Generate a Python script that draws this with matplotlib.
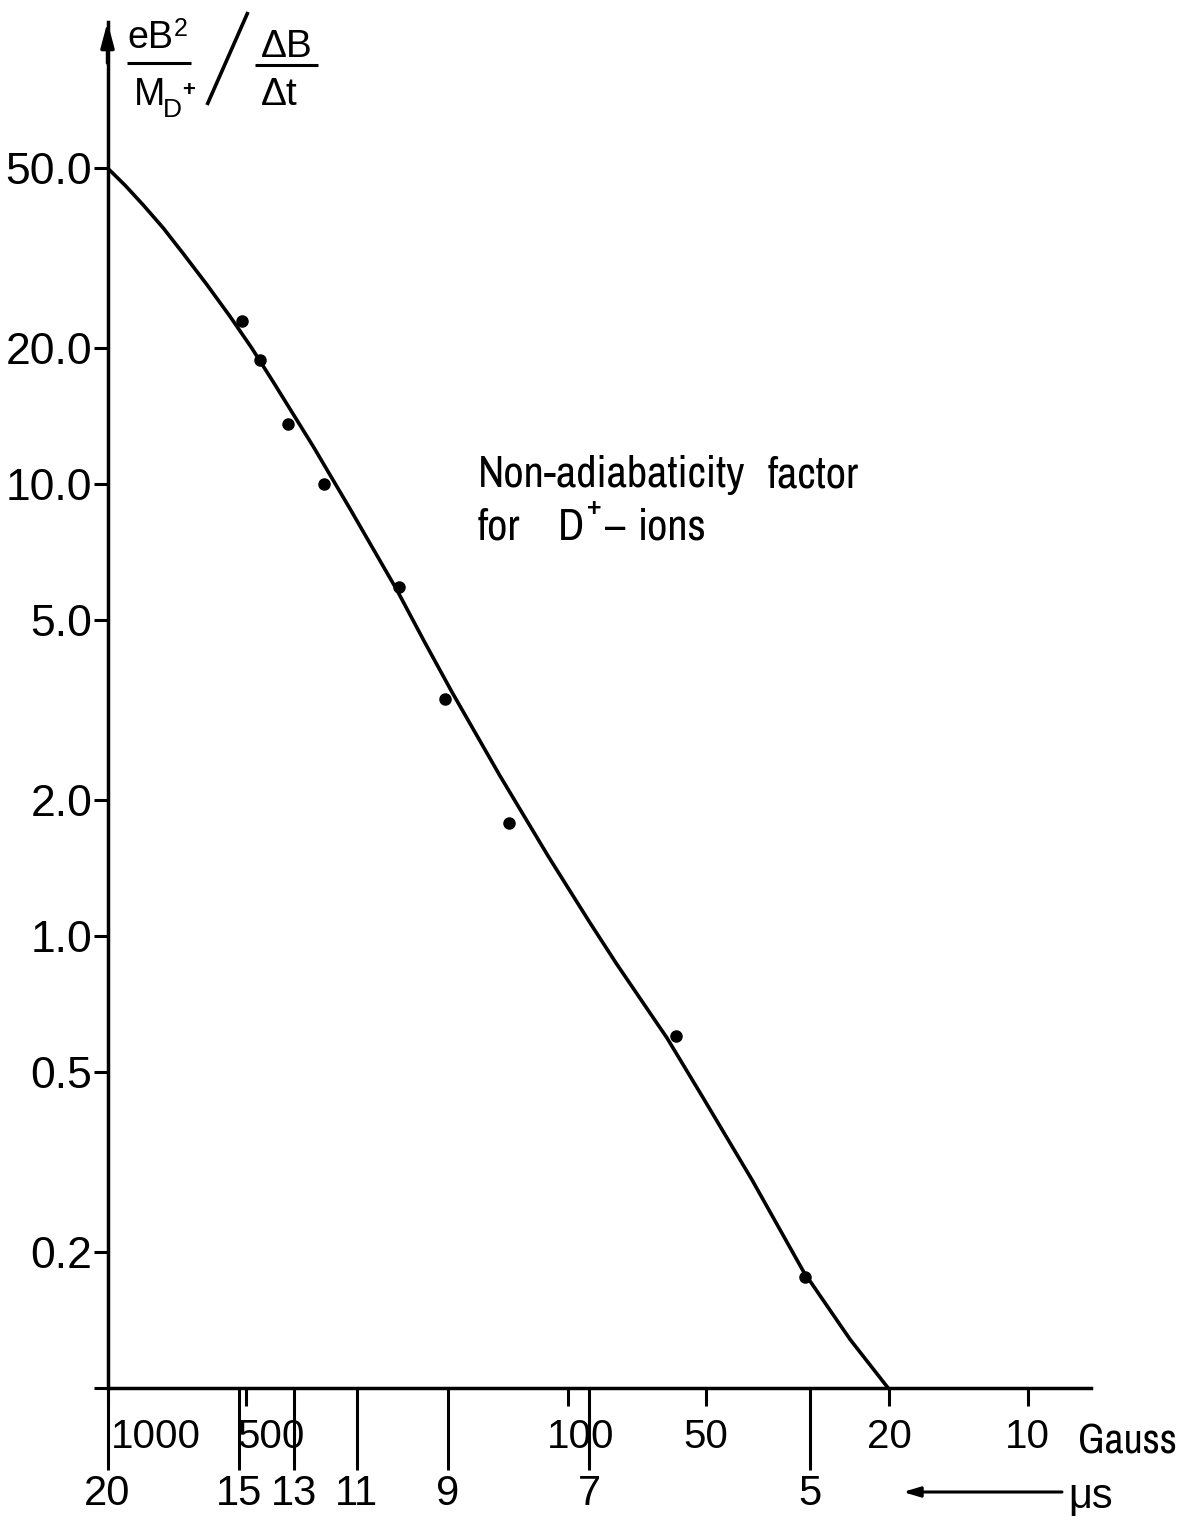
#!/usr/bin/env python3
"""Non-adiabaticity factor for D+ ions vs. field (Gauss) / time (us)."""

import matplotlib
matplotlib.use("Agg")
import matplotlib.pyplot as plt
from matplotlib import font_manager as fm
from matplotlib.lines import Line2D
from matplotlib.ticker import FixedLocator, NullFormatter
from matplotlib.transforms import offset_copy

W, H, DPI = 1188, 1524, 100
FONT = ["Liberation Sans", "DejaVu Sans"]

# --- data --------------------------------------------------------------------
gauss_ticks = [1000, 500, 100, 50, 20, 10]
gauss_labels = ["1000", "500", "100", "50", "20", "10"]
us_ticks = [20, 15, 13, 11, 9, 7, 5]
us_tick_gauss = [1000, 518, 393, 287, 182, 89.8, 29.7]   # us tick positions on the Gauss scale

y_ticks = [50, 20, 10, 5, 2, 1, 0.5, 0.2, 0.1]
y_labels = ["50.0", "20.0", "10.0", "5.0", "2.0", "1.0", "0.5", "0.2", ""]

meas_gauss = [511, 466, 406, 338, 233, 185, 134, 58.2, 30.5]
meas_factor = [22.9, 18.8, 13.6, 10.0, 5.91, 3.34, 1.78, 0.60, 0.176]

curve_gauss = [1000, 916, 836, 756, 684, 608, 542, 486, 436, 357, 297, 235, 205,
               178.5, 140.2, 110.1, 89.4, 78.2, 60.8, 50.7, 39.7, 30.7, 24.3, 20.1]
curve_factor = [50.0, 45.8, 41.4, 36.8, 32.3, 27.6, 23.5, 20.0, 16.8, 12.1, 8.81,
                5.83, 4.49, 3.47, 2.26, 1.50, 1.07, 0.867, 0.595, 0.438, 0.2885,
                0.181, 0.128, 0.100]


def pick_narrow():
    """Find a condensed sans face if one is installed (lettering is narrow)."""
    entries = fm.fontManager.ttflist
    for key in ("Narrow", "Condensed"):
        for f in entries:
            if key in f.name and "Mono" not in f.name and "Serif" not in f.name:
                return {"family": [f.name, "DejaVu Sans"]}, 1.0
    for f in entries:
        if f.name == "DejaVu Sans" and "condensed" in str(f.stretch):
            return {"family": ["DejaVu Sans"], "fontstretch": "condensed"}, 0.95
    return {"family": FONT}, 0.82


NARROW, NARROW_SCALE = pick_narrow()


def px(x, y):
    """image pixel (top-left origin) -> figure fraction"""
    return x / W, 1 - y / H


def fig_line(fig, p0, p1, lw=2.2):
    (x0, y0), (x1, y1) = px(*p0), px(*p1)
    fig.add_artist(Line2D([x0, x1], [y0, y1], transform=fig.transFigure,
                          color="black", lw=lw, solid_capstyle="butt"))


def fig_text(fig, x, y, s, size, narrow=False, **kw):
    fx, fy = px(x, y)
    if narrow:
        fig.text(fx, fy, s, fontsize=size * NARROW_SCALE, va="baseline",
                 ha="left", **NARROW, **kw)
    else:
        fig.text(fx, fy, s, fontsize=size, family=FONT, va="baseline",
                 ha="left", **kw)


def main():
    fig = plt.figure(figsize=(W / DPI, H / DPI), dpi=DPI)
    ax = fig.add_axes([107.5 / W, 136 / H, (1091 - 107.5) / W, (1388 - 22) / H])

    # curve + measured points
    ax.plot(curve_gauss, curve_factor, color="black", lw=2.6, clip_on=False,
            solid_capstyle="butt", solid_joinstyle="round")
    ax.plot(meas_gauss, meas_factor, "o", color="black", ms=8, clip_on=False)

    ax.set_xscale("log")
    ax.set_yscale("log")
    ax.set_xlim(1000, 7.28)
    ax.set_ylim(0.1, 105.2)

    for side in ("top", "right"):
        ax.spines[side].set_visible(False)
    for side in ("left", "bottom"):
        ax.spines[side].set_linewidth(2.5)

    # y axis
    ax.yaxis.set_major_locator(FixedLocator(y_ticks))
    ax.yaxis.set_minor_locator(FixedLocator([]))
    ax.set_yticklabels(y_labels)
    ax.tick_params(axis="y", which="major", length=10, width=2.2, pad=1,
                   labelsize=32)
    for lbl in ax.get_yticklabels():
        lbl.set_family(FONT)

    # x axis: short Gauss ticks (major), long us ticks (minor)
    ax.xaxis.remove_overlapping_locs = False
    ax.xaxis.set_major_locator(FixedLocator(gauss_ticks))
    ax.xaxis.set_minor_locator(FixedLocator(us_tick_gauss))
    ax.xaxis.set_major_formatter(NullFormatter())
    ax.xaxis.set_minor_formatter(NullFormatter())
    ax.tick_params(axis="x", which="major", length=13, width=2.2)
    ax.tick_params(axis="x", which="minor", length=59, width=2.2)

    xtrans = ax.get_xaxis_transform()
    gauss_dx = {1000: 48, 500: 25, 100: 13}
    for g, s in zip(gauss_ticks, gauss_labels):
        tr = offset_copy(xtrans, fig=fig, x=gauss_dx.get(g, 0), y=-49, units="dots")
        ax.text(g, 0, s, transform=tr, ha="center", va="center", fontsize=29,
                family=FONT)
    for g, s in zip(us_tick_gauss, us_ticks):
        tr = offset_copy(xtrans, fig=fig, x=0, y=-106, units="dots")
        ax.text(g, 0, str(s), transform=tr, ha="center", va="center", fontsize=30,
                family=FONT)
    fig_text(fig, 1078, 1453, "Gauss", 30, narrow=True)
    fig_text(fig, 1068, 1508, "\u03bcs", 30)
    ax.annotate("", xy=(903, H - 1492), xycoords="figure pixels",
                xytext=(1062, H - 1492), textcoords="figure pixels",
                arrowprops=dict(arrowstyle="-|>,head_length=1.0,head_width=0.3",
                                color="black", lw=2.2, shrinkA=0, shrinkB=0))

    # arrow head on top of y axis
    ax.annotate("", xy=(0, 1), xycoords="axes fraction",
                xytext=(0, 0.97), textcoords="axes fraction",
                arrowprops=dict(arrowstyle="-|>,head_length=1.5,head_width=0.4",
                                color="black", lw=2.5, shrinkA=0, shrinkB=0))

    # y-axis quantity:  (eB^2 / M_D+) / (dB / dt)
    fig_text(fig, 127, 48, "eB", 27)
    fig_text(fig, 174, 36, "2", 18)
    fig_line(fig, (127, 63), (191, 63))
    fig_text(fig, 134, 105, "M", 27)
    fig_text(fig, 163, 117, "D", 19)
    fig_text(fig, 182, 96, "+", 16, fontweight="bold")
    fig_line(fig, (248, 12), (207, 105), lw=2.6)
    fig_text(fig, 261, 57, "\u0394B", 28)
    fig_line(fig, (255, 65), (318, 65))
    fig_text(fig, 261, 105, "\u0394t", 28)

    # annotation
    fig_text(fig, 478, 487, "Non-adiabaticity", 32, narrow=True)
    fig_text(fig, 768, 487, "factor", 32, narrow=True)
    fig_text(fig, 478, 540, "for", 32, narrow=True)
    fig_text(fig, 558, 540, "D", 32, narrow=True)
    fig_text(fig, 587, 516, "+", 18, fontweight="bold")
    fig_text(fig, 605, 540, "\u2013", 32, narrow=True)
    fig_text(fig, 638, 540, "ions", 32, narrow=True)

    fig.savefig("out.png", dpi=DPI)
    plt.close("all")
    return 0


if __name__ == "__main__":
    raise SystemExit(main())
